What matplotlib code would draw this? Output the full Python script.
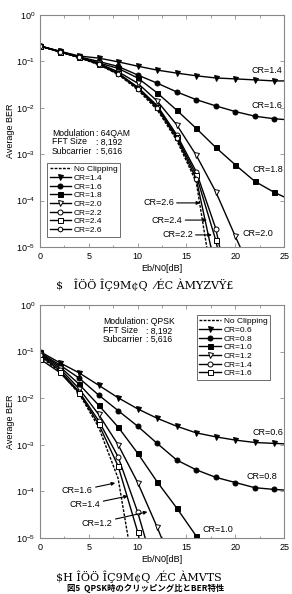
import matplotlib
matplotlib.use("Agg")
import matplotlib.pyplot as plt
from matplotlib.ticker import MultipleLocator, LogLocator, NullLocator

plt.rcParams['font.family'] = ['Liberation Sans', 'DejaVu Sans']
plt.rcParams['mathtext.default'] = 'regular'

# Eb/N0 [dB] sample points (markers every 2 dB, last point only for the line)
ebn0 = [0, 2, 4, 6, 8, 10, 12, 14, 16, 18, 20, 22, 24, 25]

# ---- 64QAM ----
qam_noclip = [2.15e-1, 1.62e-1, 1.20e-1, 8.5e-2, 5.25e-2, 2.45e-2, 9.1e-3, 2.0e-3, 2.5e-4, 6.3e-7]
qam_cr14 = [2.15e-1, 1.67e-1, 1.31e-1, 1.18e-1, 9.8e-2, 7.9e-2, 6.5e-2, 5.6e-2, 4.9e-2, 4.4e-2, 4.2e-2, 4.0e-2, 3.8e-2, 3.8e-2]
qam_cr16 = [2.15e-1, 1.66e-1, 1.26e-1, 1.0e-1, 7.8e-2, 5.1e-2, 3.4e-2, 2.2e-2, 1.5e-2, 1.1e-2, 8.3e-3, 6.6e-3, 5.8e-3, 5.6e-3]
qam_cr18 = [2.15e-1, 1.62e-1, 1.23e-1, 9.3e-2, 7.1e-2, 4.4e-2, 2.1e-2, 8.9e-3, 3.6e-3, 1.4e-3, 5.9e-4, 2.6e-4, 1.5e-4, 1.2e-4]
qam_cr20 = [2.15e-1, 1.62e-1, 1.23e-1, 9.1e-2, 6.0e-2, 3.4e-2, 1.4e-2, 4.3e-3, 9.5e-4, 1.55e-4, 1.7e-5, 2.0e-6]
qam_cr22 = [2.15e-1, 1.62e-1, 1.23e-1, 8.9e-2, 5.6e-2, 2.8e-2, 1.12e-2, 2.63e-3, 4.2e-4, 2.5e-5, 2.5e-7]
qam_cr24 = [2.15e-1, 1.62e-1, 1.23e-1, 8.9e-2, 5.5e-2, 2.7e-2, 1.05e-2, 2.4e-3, 3.55e-4, 1.4e-5, 1.6e-7]
qam_cr26 = [2.15e-1, 1.62e-1, 1.23e-1, 8.7e-2, 5.4e-2, 2.6e-2, 9.8e-3, 2.2e-3, 2.95e-4, 3.2e-6]

# ---- QPSK ----
qpsk_noclip = [7.9e-2, 3.75e-2, 1.25e-2, 2.4e-3, 1.9e-4, 6.3e-7]
qpsk_cr06 = [1.0e-1, 5.8e-2, 3.5e-2, 1.9e-2, 1.02e-2, 5.9e-3, 3.7e-3, 2.5e-3, 1.8e-3, 1.48e-3, 1.26e-3, 1.12e-3, 1.07e-3, 1.05e-3]
qpsk_cr08 = [9.5e-2, 5.2e-2, 2.7e-2, 1.17e-2, 5.4e-3, 2.5e-3, 1.07e-3, 4.7e-4, 2.9e-4, 2.0e-4, 1.55e-4, 1.2e-4, 1.1e-4, 1.07e-4]
qpsk_cr10 = [9.1e-2, 4.8e-2, 2.0e-2, 7.1e-3, 2.4e-3, 6.6e-4, 1.6e-4, 4.4e-5, 1.1e-5, 2.5e-6]
qpsk_cr12 = [8.7e-2, 4.4e-2, 1.6e-2, 4.5e-3, 1.0e-3, 1.55e-4, 1.7e-5, 1.6e-6]
qpsk_cr14 = [8.3e-2, 4.0e-2, 1.38e-2, 3.3e-3, 5.5e-4, 3.6e-5, 1.3e-6]
qpsk_cr16 = [6.9e-2, 3.6e-2, 1.32e-2, 2.8e-3, 3.5e-4, 1.35e-5, 2.0e-7]

fig = plt.figure(figsize=(2.92, 5.94), dpi=100)


def curve(ax, y, marker, filled, label):
    n = len(y)
    x = ebn0[:n]
    marks = [i for i in range(n) if x[i] % 2 == 0]
    ax.semilogy(x, y, color='black', lw=1.0, marker=marker, ms=3.6,
                markevery=marks, mfc='black' if filled else 'white',
                mec='black', mew=0.7, label=label)


def style(ax):
    ax.set_xlim(0, 25)
    ax.set_ylim(1e-5, 1)
    ax.xaxis.set_major_locator(MultipleLocator(5))
    ax.xaxis.set_minor_locator(MultipleLocator(2.5))
    ax.yaxis.set_major_locator(LogLocator(base=10, numticks=10))
    ax.yaxis.set_minor_locator(NullLocator())
    ax.tick_params(which='both', direction='in', top=True, right=True,
                   labelsize=6.5, width=0.5, color='#777777')
    ax.tick_params(which='major', length=3)
    ax.tick_params(which='minor', length=1.8)
    for s in ax.spines.values():
        s.set_color('#888888')
        s.set_linewidth(0.8)
    ax.set_xlabel('Eb/N0[dB]', fontsize=6.5, labelpad=2)
    ax.set_ylabel('Average BER', fontsize=6.5, labelpad=1)


def legend(ax, anchor):
    lg = ax.legend(loc='upper left', bbox_to_anchor=anchor, fontsize=6,
                   frameon=True, fancybox=False, edgecolor='#555555',
                   framealpha=1, labelspacing=0.1, handlelength=2.6,
                   handletextpad=0.3, borderpad=0.3, borderaxespad=0)
    lg.get_frame().set_linewidth(0.6)


def info(ax, x0, x1, ys, rows):
    for y, (k, v) in zip(ys, rows):
        ax.text(x0, y, k, transform=ax.transAxes, fontsize=6.2, va='center')
        ax.text(x1, y, ': ' + v, transform=ax.transAxes, fontsize=6.2, va='center')


def arrow(ax, text, xy, xytext):
    ax.annotate(text, xy=xy, xytext=xytext, fontsize=6.5, va='center', ha='left',
                arrowprops=dict(arrowstyle='-|>', color='black', lw=0.8,
                                mutation_scale=5, shrinkA=0, shrinkB=0))


# ---------------- top: 64QAM ----------------
ax1 = fig.add_axes([0.137, 0.5842, 0.836, 0.3905])
ax1.semilogy(ebn0[:len(qam_noclip)], qam_noclip, color='black', lw=1.0,
             ls=(0, (2, 1)), label='No Clipping')
curve(ax1, qam_cr14, 'v', True, 'CR=1.4')
curve(ax1, qam_cr16, 'o', True, 'CR=1.6')
curve(ax1, qam_cr18, 's', True, 'CR=1.8')
curve(ax1, qam_cr20, 'v', False, 'CR=2.0')
curve(ax1, qam_cr22, 'o', False, 'CR=2.2')
curve(ax1, qam_cr24, 's', False, 'CR=2.4')
curve(ax1, qam_cr26, 'h', False, 'CR=2.6')
style(ax1)
legend(ax1, (0.029, 0.362))
info(ax1, 0.049, 0.228, [0.491, 0.453, 0.412],
     [('Modulation', '64QAM'), ('FFT Size', '8,192'), ('Subcarrier', '5,616')])
ax1.text(24.8, 10 ** -1.20, 'CR=1.4', fontsize=6.5, ha='right', va='center')
ax1.text(24.8, 10 ** -1.96, 'CR=1.6', fontsize=6.5, ha='right', va='center')
ax1.text(24.9, 10 ** -3.32, 'CR=1.8', fontsize=6.5, ha='right', va='center')
ax1.text(23.9, 10 ** -4.72, 'CR=2.0', fontsize=6.5, ha='right', va='center')
arrow(ax1, 'CR=2.6', (16.4, 10 ** -4.05), (10.55, 10 ** -4.05))
arrow(ax1, 'CR=2.4', (17.1, 10 ** -4.42), (11.45, 10 ** -4.42))
arrow(ax1, 'CR=2.2', (17.6, 10 ** -4.74), (12.5, 10 ** -4.74))
fig.text(0.495, 1 - 285 / 594, '\\$   ÎÖÖ ÎÇ9M¢Q  ⁄ÉC ÀMYZVŸ£', fontsize=8,
         family='DejaVu Serif', ha='center', va='center')

# ---------------- bottom: QPSK ----------------
ax2 = fig.add_axes([0.137, 0.0943, 0.836, 0.3923])
ax2.semilogy(ebn0[:len(qpsk_noclip)], qpsk_noclip, color='black', lw=1.0,
             ls=(0, (2, 1)), label='No Clipping')
curve(ax2, qpsk_cr06, 'v', True, 'CR=0.6')
curve(ax2, qpsk_cr08, 'o', True, 'CR=0.8')
curve(ax2, qpsk_cr10, 's', True, 'CR=1.0')
curve(ax2, qpsk_cr12, 'v', False, 'CR=1.2')
curve(ax2, qpsk_cr14, 'o', False, 'CR=1.4')
curve(ax2, qpsk_cr16, 's', False, 'CR=1.6')
style(ax2)
legend(ax2, (0.643, 0.957))
info(ax2, 0.258, 0.435, [0.928, 0.889, 0.852],
     [('Modulation', 'QPSK'), ('FFT Size', '8,192'), ('Subcarrier', '5,616')])
ax2.text(24.9, 10 ** -2.73, 'CR=0.6', fontsize=6.5, ha='right', va='center')
ax2.text(24.3, 10 ** -3.69, 'CR=0.8', fontsize=6.5, ha='right', va='center')
ax2.text(19.8, 10 ** -4.81, 'CR=1.0', fontsize=6.5, ha='right', va='center')
arrow(ax2, 'CR=1.6', (7.7, 10 ** -3.82), (2.25, 10 ** -3.99))
arrow(ax2, 'CR=1.4', (9.0, 10 ** -4.10), (3.05, 10 ** -4.29))
arrow(ax2, 'CR=1.2', (11.0, 10 ** -4.44), (4.3, 10 ** -4.68))
fig.text(0.475, 1 - 577 / 594, '\\$H ÎÖÖ ÎÇ9M¢Q  ⁄ÉC ÀMVTS', fontsize=8,
         family='DejaVu Serif', ha='center', va='center')
fig.text(0.5, 0.001, '図5  QPSK時のクリッピング比とBER特性', fontsize=6,
         family=['Noto Sans CJK JP', 'DejaVu Sans'], ha='center', va='bottom',
         fontweight='bold')

fig.savefig('out.png', dpi=100)
